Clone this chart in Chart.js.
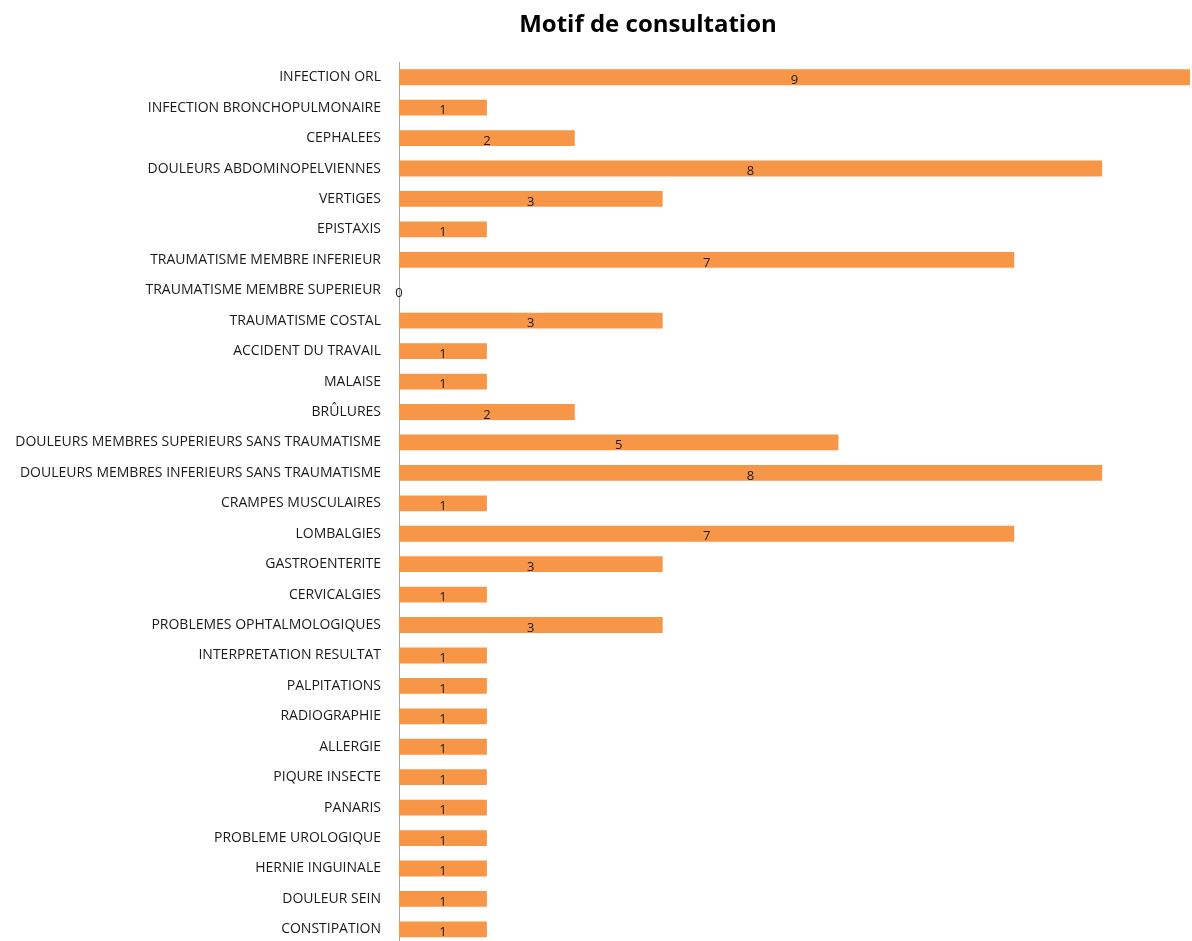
<!DOCTYPE html>
<html>
<head>
<meta charset="utf-8">
<script src="https://cdn.jsdelivr.net/npm/chart.js@4/dist/chart.umd.min.js"></script>
<style>
	html, body { margin: 0; padding: 0; background: #fff; overflow: hidden; }
	canvas { display: block; }
</style>
</head>
<body>
<canvas id="chart" width="1192" height="963"></canvas>
<script>
var chart_title = "Motif de consultation";

var motifs = [
	"INFECTION ORL",
	"INFECTION BRONCHOPULMONAIRE",
	"CEPHALEES",
	"DOULEURS ABDOMINOPELVIENNES",
	"VERTIGES",
	"EPISTAXIS",
	"TRAUMATISME MEMBRE INFERIEUR",
	"TRAUMATISME MEMBRE SUPERIEUR",
	"TRAUMATISME COSTAL",
	"ACCIDENT DU TRAVAIL",
	"MALAISE",
	"BRÛLURES",
	"DOULEURS MEMBRES SUPERIEURS SANS TRAUMATISME",
	"DOULEURS MEMBRES INFERIEURS SANS TRAUMATISME",
	"CRAMPES MUSCULAIRES",
	"LOMBALGIES",
	"GASTROENTERITE",
	"CERVICALGIES",
	"PROBLEMES OPHTALMOLOGIQUES",
	"INTERPRETATION RESULTAT",
	"PALPITATIONS",
	"RADIOGRAPHIE",
	"ALLERGIE",
	"PIQURE INSECTE",
	"PANARIS",
	"PROBLEME UROLOGIQUE",
	"HERNIE INGUINALE",
	"DOULEUR SEIN",
	"CONSTIPATION"
];

var nombre = [9, 1, 2, 8, 3, 1, 7, 0, 3, 1, 1, 2, 5, 8, 1, 7, 3, 1, 3, 1, 1, 1, 1, 1, 1, 1, 1, 1, 1];

var x_min = 0;
var x_max = 9;

// draws the value in the middle of each bar, like excel data labels
var value_labels = {
	id: "valueLabels",
	afterDatasetsDraw: function (chart) {
		var ctx = chart.ctx;
		var meta = chart.getDatasetMeta(0);
		ctx.save();
		ctx.font = "13px 'Open Sans'";
		ctx.fillStyle = "#1a1a1a";
		ctx.textAlign = "center";
		ctx.textBaseline = "middle";
		meta.data.forEach(function (bar, i) {
			var p = bar.getProps(["x", "y", "base"], true);
			var cx = (p.x + p.base) / 2;
			ctx.fillText(String(nombre[i]), cx, p.y + 3);
		});
		ctx.restore();
	}
};

// title sits a little right of the page center in the original
var title_plugin = {
	id: "offsetTitle",
	afterDraw: function (chart) {
		var ctx = chart.ctx;
		ctx.save();
		ctx.font = "bold 24px 'Open Sans'";
		ctx.fillStyle = "#000";
		ctx.textAlign = "center";
		ctx.textBaseline = "middle";
		ctx.fillText(chart_title, 648, 25);
		ctx.restore();
	}
};

var context = document.getElementById("chart").getContext("2d");
var chart = new Chart(context, {
	type: "bar",
	data: {
		labels: motifs,
		datasets: [{
			label: "Nombre",
			data: nombre,
			backgroundColor: "#F79646",
			borderWidth: 0,
			barPercentage: 0.52,
			categoryPercentage: 1
		}]
	},
	options: {
		indexAxis: "y",
		responsive: false,
		animation: false,
		layout: {
			padding: { top: 62, right: 2, bottom: 2, left: 0 }
		},
		plugins: {
			legend: { display: false },
			tooltip: { enabled: false },
			title: { display: false }
		},
		scales: {
			x: {
				display: false,
				min: x_min,
				max: x_max
			},
			y: {
				grid: { display: false },
				border: { display: true, color: "#a6a6a6", width: 1 },
				ticks: {
					autoSkip: false,
					padding: 10,
					color: "#1a1a1a",
					font: { family: "'Open Sans'", size: 14 }
				},
				afterFit: function (scale) {
					scale.width = 399;
				}
			}
		}
	},
	plugins: [value_labels, title_plugin]
});
</script>
</body>
</html>
